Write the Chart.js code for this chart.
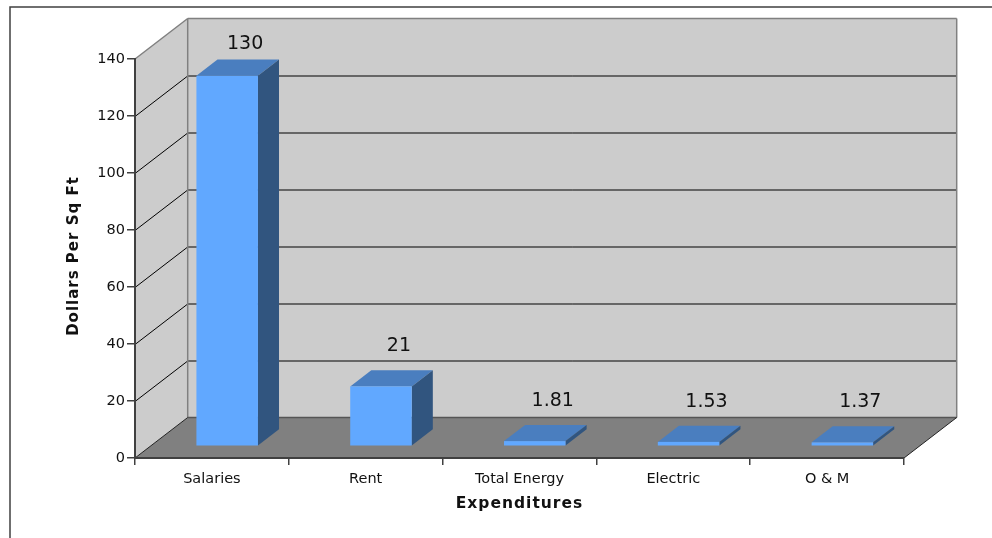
<!DOCTYPE html>
<html>
<head>
<meta charset="utf-8">
<title>Expenditures</title>
<script src="https://cdn.jsdelivr.net/npm/chart.js@4.4.1/dist/chart.umd.min.js"></script>
<style>
    html, body { margin: 0; padding: 0; background: #fff; }
    canvas { display: block; }
</style>
</head>
<body>
<canvas id="expense-chart" width="992" height="538"></canvas>
<script>
// Chart data
const categories = ['Salaries', 'Rent', 'Total Energy', 'Electric', 'O & M'];
const values = [130, 21, 1.81, 1.53, 1.37];
const valueLabels = ['130', '21', '1.81', '1.53', '1.37'];
const yTicks = [0, 20, 40, 60, 80, 100, 120, 140];

// 3D depth of the plot box and where the bars sit inside it (0 = front, 1 = back)
const DEPTH_X = 52.7;
const DEPTH_Y = -40.5;
const BAR_FRONT = 0.29;
const BAR_BACK = 0.69;

const FONT = "'DejaVu Sans', Verdana, sans-serif";
const WALL = '#cccccc';
const FLOOR = '#808080';
const EDGE = '#808080';
const AXIS = '#404040';

function fillPoly(ctx, pts, color) {
    ctx.beginPath();
    ctx.moveTo(pts[0][0], pts[0][1]);
    for (let i = 1; i < pts.length; i++) ctx.lineTo(pts[i][0], pts[i][1]);
    ctx.closePath();
    ctx.fillStyle = color;
    ctx.fill();
}

function line(ctx, x0, y0, x1, y1, color, width) {
    ctx.beginPath();
    ctx.moveTo(x0, y0);
    ctx.lineTo(x1, y1);
    ctx.strokeStyle = color;
    ctx.lineWidth = width;
    ctx.stroke();
}

// Frame, walls, floor and gridlines behind everything
const wallsPlugin = {
    id: 'walls',
    beforeDraw(chart) {
        const { ctx, chartArea: a, scales: { y } } = chart;
        const top = y.getPixelForValue(yTicks[yTicks.length - 1]);
        const bottom = y.getPixelForValue(yTicks[0]);
        const bx = a.left + DEPTH_X;
        const bxr = a.right + DEPTH_X;

        ctx.save();

        // outer frame
        ctx.strokeStyle = AXIS;
        ctx.lineWidth = 1.5;
        ctx.strokeRect(10, 7, 1100, 700);

        // back wall
        ctx.fillStyle = WALL;
        ctx.fillRect(bx, top + DEPTH_Y, a.right - a.left, bottom - top);

        // left wall
        fillPoly(ctx, [[a.left, top], [bx, top + DEPTH_Y], [bx, bottom + DEPTH_Y], [a.left, bottom]], WALL);

        // floor
        fillPoly(ctx, [[a.left, bottom], [bx, bottom + DEPTH_Y], [bxr, bottom + DEPTH_Y], [a.right, bottom]], FLOOR);

        // gridlines on both walls
        yTicks.slice(1, -1).forEach(v => {
            const py = Math.round(y.getPixelForValue(v)) + 0.5;
            line(ctx, a.left, py, bx, py + DEPTH_Y, '#000', 1);
            line(ctx, bx, py + DEPTH_Y, bxr, py + DEPTH_Y, '#000', 1);
        });

        // wall edges
        line(ctx, a.left, top, bx, top + DEPTH_Y, EDGE, 1.5);
        line(ctx, bx, top + DEPTH_Y, bxr, top + DEPTH_Y, EDGE, 1.5);
        line(ctx, bxr, top + DEPTH_Y, bxr, bottom + DEPTH_Y, EDGE, 1.5);
        line(ctx, bx, top + DEPTH_Y, bx, bottom + DEPTH_Y, EDGE, 1.5);
        line(ctx, bx, bottom + DEPTH_Y, bxr, bottom + DEPTH_Y, '#555', 1.5);
        line(ctx, a.left, bottom, bx, bottom + DEPTH_Y, '#222', 1);
        line(ctx, a.right, bottom, bxr, bottom + DEPTH_Y, '#222', 1);

        ctx.restore();
    }
};

// Boxes instead of flat bars, plus value labels and axis titles
const barsPlugin = {
    id: 'bars3d',
    beforeDatasetDraw() {
        return false;
    },
    afterDatasetsDraw(chart) {
        const { ctx, chartArea: a } = chart;
        const meta = chart.getDatasetMeta(0);
        const fx = BAR_FRONT * DEPTH_X, fy = BAR_FRONT * DEPTH_Y;
        const kx = BAR_BACK * DEPTH_X, ky = BAR_BACK * DEPTH_Y;

        ctx.save();
        meta.data.forEach((el, i) => {
            const { x, y, base, width } = el.getProps(['x', 'y', 'base', 'width'], true);
            const x0 = x - width / 2, x1 = x + width / 2;

            // top
            fillPoly(ctx, [[x0 + fx, y + fy], [x1 + fx, y + fy], [x1 + kx, y + ky], [x0 + kx, y + ky]], '#4a7ebf');
            // right side
            fillPoly(ctx, [[x1 + fx, y + fy], [x1 + kx, y + ky], [x1 + kx, base + ky], [x1 + fx, base + fy]], '#31557f');
            // front
            ctx.fillStyle = '#61a8ff';
            ctx.fillRect(x0 + fx, y + fy, width, base - y);

            // value label
            const ly = Math.max(y + ky - 24, a.top - 15);
            ctx.fillStyle = '#111';
            ctx.font = `19px ${FONT}`;
            ctx.textAlign = 'center';
            ctx.textBaseline = 'middle';
            ctx.fillText(valueLabels[i], x + 0.63 * DEPTH_X, ly);
        });
        ctx.restore();
    },
    afterDraw(chart) {
        const { ctx, chartArea: a } = chart;
        ctx.save();
        ctx.fillStyle = '#111';
        ctx.textAlign = 'center';
        ctx.textBaseline = 'middle';
        ctx.letterSpacing = '1px';

        ctx.font = `bold 15.5px ${FONT}`;
        ctx.fillText('Expenditures', (a.left + a.right) / 2, 504);

        ctx.translate(74, 256);
        ctx.rotate(-Math.PI / 2);
        ctx.font = `bold 15px ${FONT}`;
        ctx.fillText('Dollars Per Sq Ft', 0, 0);
        ctx.restore();
    }
};

const chartCtx = document.getElementById('expense-chart').getContext('2d');

const expenseChart = new Chart(chartCtx, {
    type: 'bar',
    data: {
        labels: categories,
        datasets: [{
            data: values,
            backgroundColor: '#61a8ff',
            barPercentage: 0.4,
            categoryPercentage: 1
        }]
    },
    options: {
        responsive: false,
        devicePixelRatio: 1,
        animation: false,
        layout: {
            padding: { left: 10, top: 59, right: 88, bottom: 0 }
        },
        plugins: {
            legend: { display: false },
            tooltip: { enabled: false }
        },
        scales: {
            x: {
                afterFit: scale => { scale.height = 80; },
                grid: {
                    offset: true,
                    drawOnChartArea: false,
                    tickLength: 7,
                    color: AXIS,
                    lineWidth: 1.5
                },
                border: { color: AXIS, width: 2 },
                ticks: {
                    color: '#111',
                    padding: 6,
                    font: { family: FONT, size: 14.5 }
                }
            },
            y: {
                min: yTicks[0],
                max: yTicks[yTicks.length - 1],
                afterFit: scale => { scale.width = 125; },
                afterBuildTicks: scale => {
                    scale.ticks = yTicks.map(v => ({ value: v }));
                },
                grid: {
                    drawOnChartArea: false,
                    tickLength: 8,
                    color: AXIS,
                    lineWidth: 1.5
                },
                border: { color: AXIS, width: 2 },
                ticks: {
                    color: '#111',
                    padding: 2,
                    font: { family: FONT, size: 14.5 }
                }
            }
        }
    },
    plugins: [wallsPlugin, barsPlugin]
});
</script>
</body>
</html>
